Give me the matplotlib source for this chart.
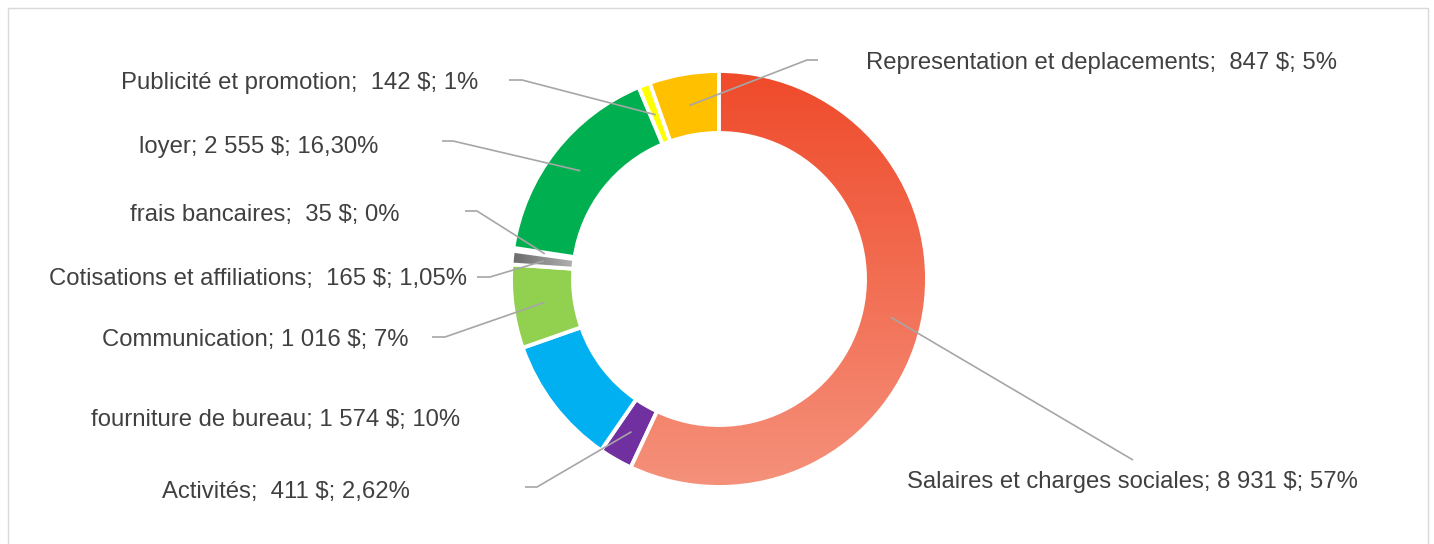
import numpy as np
import matplotlib
matplotlib.use("Agg")
import matplotlib.pyplot as plt
from matplotlib.colors import LinearSegmentedColormap
from matplotlib.patches import Rectangle

# budget data, in the order of the ring (clockwise from 12 o'clock)
categories = ["Salaires et charges sociales", "Activités", "fourniture de bureau",
              "Communication", "Cotisations et affiliations", "frais bancaires",
              "loyer", "Publicité et promotion", "Representation et deplacements"]
amounts = [8931, 411, 1574, 1016, 165, 35, 2555, 142, 847]
labels = ["Salaires et charges sociales; 8 931 $; 57%",
          "Activités;  411 $; 2,62%",
          "fourniture de bureau; 1 574 $; 10%",
          "Communication; 1 016 $; 7%",
          "Cotisations et affiliations;  165 $; 1,05%",
          "frais bancaires;  35 $; 0%",
          "loyer; 2 555 $; 16,30%",
          "Publicité et promotion;  142 $; 1%",
          "Representation et deplacements;  847 $; 5%"]
colors = ["#F06A50", "#7030A0", "#00B0F0", "#92D050", "#8C8C8C",
          "#A5A5A5", "#00B050", "#FFFF00", "#FFC000"]

W, H = 1434, 544
def Y(y):
    # image rows -> axis units (y up)
    return H - y

# label layout (pixel positions in the picture)
label_x = [907, 410, 460, 408, 467, 400, 378, 478, 866]
label_y = [482, 492, 420, 340, 279, 215, 147, 83, 63]
label_ha = ["left", "right", "right", "right", "right", "right", "right", "right", "left"]
# leader elbows / ends (None = no leader, elbow None = straight line)
leaders = [(None, (1133, 460)), ((537, 487), (525, 487)), None,
           ((445, 337), (432, 337)), ((490, 277), (477, 277)),
           ((477, 211), (465, 211)), ((453, 141), (442, 141)),
           ((522, 80), (509, 80)), ((807, 60), (818, 60))]

cx, cy = 719, Y(279)
R, ring = 208, 62

fig = plt.figure(figsize=(W / 100, H / 100), dpi=100)
ax = fig.add_axes([0, 0, 1, 1])

wedges, _ = ax.pie(amounts, colors=colors, radius=R, center=(cx, cy),
                   startangle=90, counterclock=False,
                   wedgeprops=dict(width=ring, edgecolor="white", linewidth=2.8))

# gradient fills like the original
def grad_fill(w, c0, c1, vertical=True):
    bb = w.get_path().get_extents()
    cmap = LinearSegmentedColormap.from_list("g", [c0, c1])
    g = np.linspace(0, 1, 256)
    g = g[:, None] if vertical else g[None, :]
    im = ax.imshow(g, cmap=cmap, extent=(bb.x0, bb.x1, bb.y0, bb.y1),
                   origin="upper", aspect="auto", zorder=1, interpolation="bilinear")
    im.set_clip_path(w)
    w.set_facecolor("none")
    w.set_zorder(2)

grad_fill(wedges[0], "#EF4A2A", "#F5917B")
grad_fill(wedges[4], "#6A6A6A", "#B2B2B2", vertical=False)
wedges[5].set_facecolor("white")

total = sum(amounts)
start = 90.0
r_mid = R - ring / 2 - 1
for i, a in enumerate(amounts):
    sweep = 360.0 * a / total
    mid = np.deg2rad(start - sweep / 2)
    start -= sweep
    ax0 = cx + r_mid * np.cos(mid)
    ay0 = cy + r_mid * np.sin(mid)
    ld = leaders[i]
    if ld is not None:
        elbow, end = ld
        xs, ys = [ax0], [ay0]
        if elbow is not None:
            xs.append(elbow[0]); ys.append(Y(elbow[1]))
        xs.append(end[0]); ys.append(Y(end[1]))
        ax.plot(xs, ys, color="#A6A6A6", lw=1.2, zorder=4, solid_capstyle="butt")
    ax.text(label_x[i], Y(label_y[i]), labels[i], ha=label_ha[i], va="center",
            fontsize=17.2, color="#404040", family=["Liberation Sans", "DejaVu Sans"])

# chart area border
ax.add_patch(Rectangle((8, -20), 1420, Y(8) + 20, fill=False,
                       edgecolor="#D9D9D9", lw=1.0, zorder=0))

ax.set_xlim(0, W)
ax.set_ylim(0, H)
ax.set_aspect("auto")
ax.axis("off")

fig.savefig("out.png", dpi=100)
